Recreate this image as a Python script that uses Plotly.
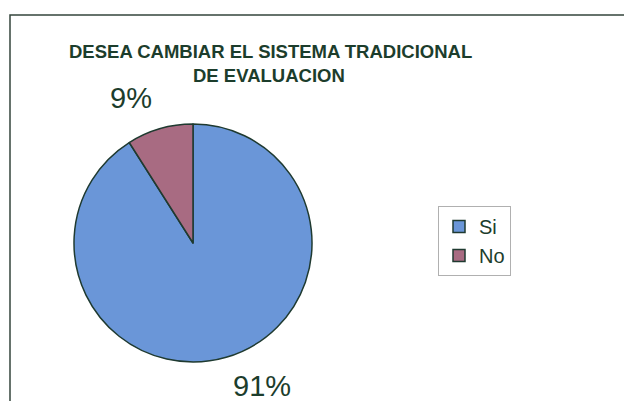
import plotly.graph_objects as go

title_lines = ["DESEA CAMBIAR EL SISTEMA TRADICIONAL", "DE EVALUACION"]
labels = ["Si", "No"]
values = [91, 9]
pct_text = ["91%", "9%"]
colors = ["#6a96d8", "#a86b82"]

# page body has an 8px margin; size the figure so it fits the window
OFF = 8
W, H = 632 - OFF, 401 - OFF
ink = "#1c3d2c"


def px(x):
    return (x - OFF) / W


def py(y):
    return 1 - (y - OFF) / H


fig = go.Figure()
fig.add_trace(go.Pie(
    labels=labels, values=values, sort=False, direction="clockwise", rotation=0,
    marker=dict(colors=colors, line=dict(color="#1f3a30", width=1.5)),
    textinfo="none", hoverinfo="label+percent",
    domain=dict(x=[px(74), px(312)], y=[py(362), py(124)]),
))

ann = dict(xref="paper", yref="paper", showarrow=False, xanchor="center", yanchor="middle")

# percentage labels
pfont = dict(family="Arial, Liberation Sans", size=29, color=ink)
fig.add_annotation(x=px(262), y=py(386), text=pct_text[0], font=pfont, **ann)
fig.add_annotation(x=px(131), y=py(98), text=pct_text[1], font=pfont, **ann)

# title
tfont = dict(family="Arial, Liberation Sans", size=18.5, color=ink, weight="bold")
fig.add_annotation(x=px(270), y=py(51), text=title_lines[0], font=tfont, **ann)
fig.add_annotation(x=px(269), y=py(75), text=title_lines[1], font=tfont, **ann)

# frame
fig.add_shape(type="rect", xref="paper", yref="paper", x0=px(10), x1=1.05, y0=-0.05, y1=py(15),
              line=dict(color="#34463c", width=1.5))

fig.update_layout(
    width=W, height=H, margin=dict(l=0, r=0, t=0, b=0),
    paper_bgcolor="white", plot_bgcolor="white",
    showlegend=True,
    legend=dict(x=px(438), y=py(206), xanchor="left", yanchor="top",
                bordercolor="#b0b0b0", borderwidth=1, bgcolor="white",
                font=dict(family="Arial, Liberation Sans", size=20, color=ink),
                itemwidth=30),
)

fig.write_html("out.html")
